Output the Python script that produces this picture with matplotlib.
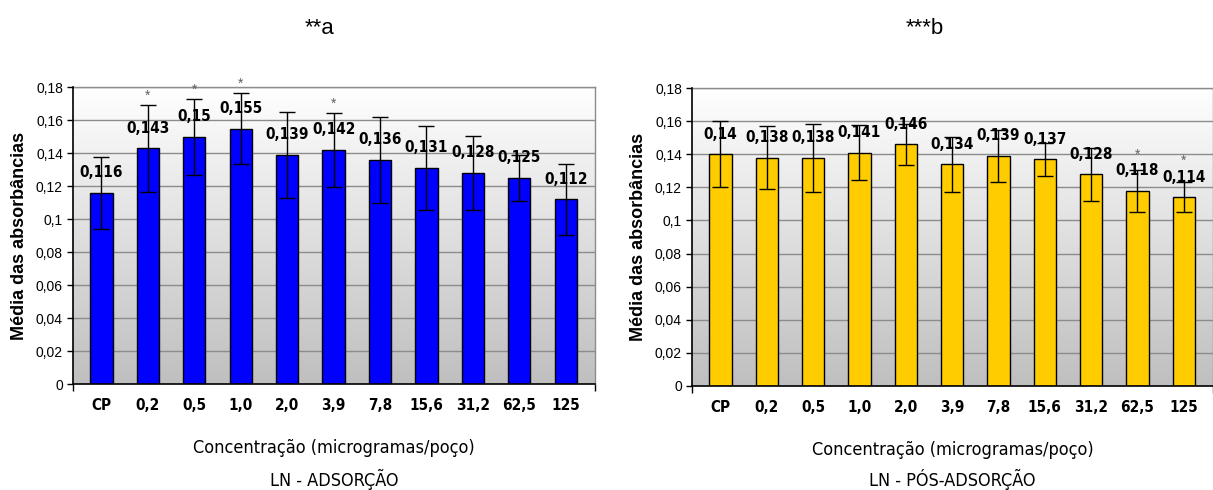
import matplotlib
matplotlib.use("Agg")
import matplotlib.pyplot as plt
import numpy as np
from matplotlib.colors import LinearSegmentedColormap

# Concentration groups (micrograms per well)
categories = ["CP", "0,2", "0,5", "1,0", "2,0", "3,9", "7,8", "15,6", "31,2", "62,5", "125"]

# Mean absorbance and error (half-range) — adsorption
ads_mean = [0.116, 0.143, 0.15, 0.155, 0.139, 0.142, 0.136, 0.131, 0.128, 0.125, 0.112]
ads_err = [0.022, 0.0265, 0.023, 0.0215, 0.026, 0.0225, 0.026, 0.0255, 0.0225, 0.014, 0.0215]
ads_sig = ["", "*", "*", "*", "", "*", "", "", "", "", ""]

# Mean absorbance and error — post-adsorption
post_mean = [0.14, 0.138, 0.138, 0.141, 0.146, 0.134, 0.139, 0.137, 0.128, 0.118, 0.114]
post_err = [0.020, 0.019, 0.0205, 0.0167, 0.0126, 0.0168, 0.0157, 0.010, 0.016, 0.0127, 0.009]
post_sig = ["", "", "", "", "", "", "", "", "", "*", "*"]

yticks = [0, 0.02, 0.04, 0.06, 0.08, 0.1, 0.12, 0.14, 0.16, 0.18]
ytick_labels = ["0", "0,02", "0,04", "0,06", "0,08", "0,1", "0,12", "0,14", "0,16", "0,18"]

NARROW = dict(family="DejaVu Sans", fontstretch="condensed")
REGULAR = dict(family=["Liberation Sans", "DejaVu Sans"])

W, H = 1213, 490
fig = plt.figure(figsize=(W / 100, H / 100), dpi=100)
fig.patch.set_facecolor("white")

bg_cmap = LinearSegmentedColormap.from_list("bg", ["#bfbfbf", "#ffffff"])


def fmt(v):
    return ("%g" % v).replace(".", ",")


def panel(rect, means, errs, sig, color, title, title_x, subtitle, sig_from_label):
    ax = fig.add_axes(rect)
    x = np.arange(len(categories))
    ax.set_xlim(-0.62, 10.63)
    ax.set_ylim(0, 0.18)

    grad = np.linspace(0, 1, 256)[:, None]
    ax.imshow(grad, extent=[0, 1, 0, 1], transform=ax.transAxes, aspect="auto",
              cmap=bg_cmap, origin="lower", zorder=0)

    for t in yticks[1:]:
        ax.axhline(t, color="#8c8c8c", lw=1.0, zorder=1)

    ax.bar(x, means, width=0.48, color=color, edgecolor="black", linewidth=1.0, zorder=2)
    ax.errorbar(x, means, yerr=errs, fmt="none", ecolor="black", elinewidth=1.0,
                capsize=5.5, capthick=1.0, zorder=3)

    for xi, m, e, s in zip(x, means, errs, sig):
        ax.annotate(fmt(m), (xi, m), xytext=(0, 14.5), textcoords="offset points",
                    ha="center", va="center", fontsize=11, fontweight="bold",
                    zorder=4, **NARROW)
        if s:
            if sig_from_label:
                ax.annotate(s, (xi, m), xytext=(0, 26), textcoords="offset points",
                            ha="center", va="center", fontsize=10, color="#606060",
                            zorder=4, **REGULAR)
            else:
                ax.annotate(s, (xi, m + e), xytext=(0, 6.5), textcoords="offset points",
                            ha="center", va="center", fontsize=10, color="#606060",
                            zorder=4, **REGULAR)

    ax.set_yticks(yticks)
    ax.set_yticklabels(ytick_labels, fontsize=10, **REGULAR)
    ax.tick_params(axis="y", direction="out", length=4, width=1, pad=3, colors="black")

    ax.set_xticks(x)
    ax.set_xticklabels(categories, fontsize=11, fontweight="bold", **NARROW)
    ax.tick_params(axis="x", which="major", length=0, pad=10)
    ax.set_xticks([-0.62, 10.63], minor=True)
    ax.tick_params(axis="x", which="minor", direction="out", length=5, width=1)

    for side in ("top", "right"):
        ax.spines[side].set_color("#8c8c8c")
        ax.spines[side].set_linewidth(1.0)
    for side in ("left", "bottom"):
        ax.spines[side].set_color("black")
        ax.spines[side].set_linewidth(1.2)
        ax.spines[side].set_zorder(5)

    ax.set_ylabel("Média das absorbâncias", fontsize=13, fontweight="bold",
                  labelpad=6, **REGULAR)
    ax.set_xlabel("Concentração (microgramas/poço)", fontsize=13, labelpad=19,
                  **NARROW)

    cx = rect[0] + rect[2] / 2
    fig.text(cx, 1 - 479 / H, subtitle, ha="center", va="center",
             fontsize=13, **NARROW)
    fig.text(title_x / W, 1 - 28 / H, title, ha="center", va="center",
             fontsize=16, **REGULAR)
    return ax


def rect_px(x0, x1, y_top, y_bot):
    return [x0 / W, 1 - y_bot / H, (x1 - x0) / W, (y_bot - y_top) / H]


panel(rect_px(72.7, 595, 87.3, 384), ads_mean, ads_err, ads_sig, "#0000ff",
      "**a", 320, "LN - ADSORÇÃO", False)
panel(rect_px(691.7, 1213, 88.3, 385.7), post_mean, post_err, post_sig, "#ffcc00",
      "***b", 925, "LN - PÓS-ADSORÇÃO", True)

fig.savefig("out.png", dpi=100, facecolor="white")
